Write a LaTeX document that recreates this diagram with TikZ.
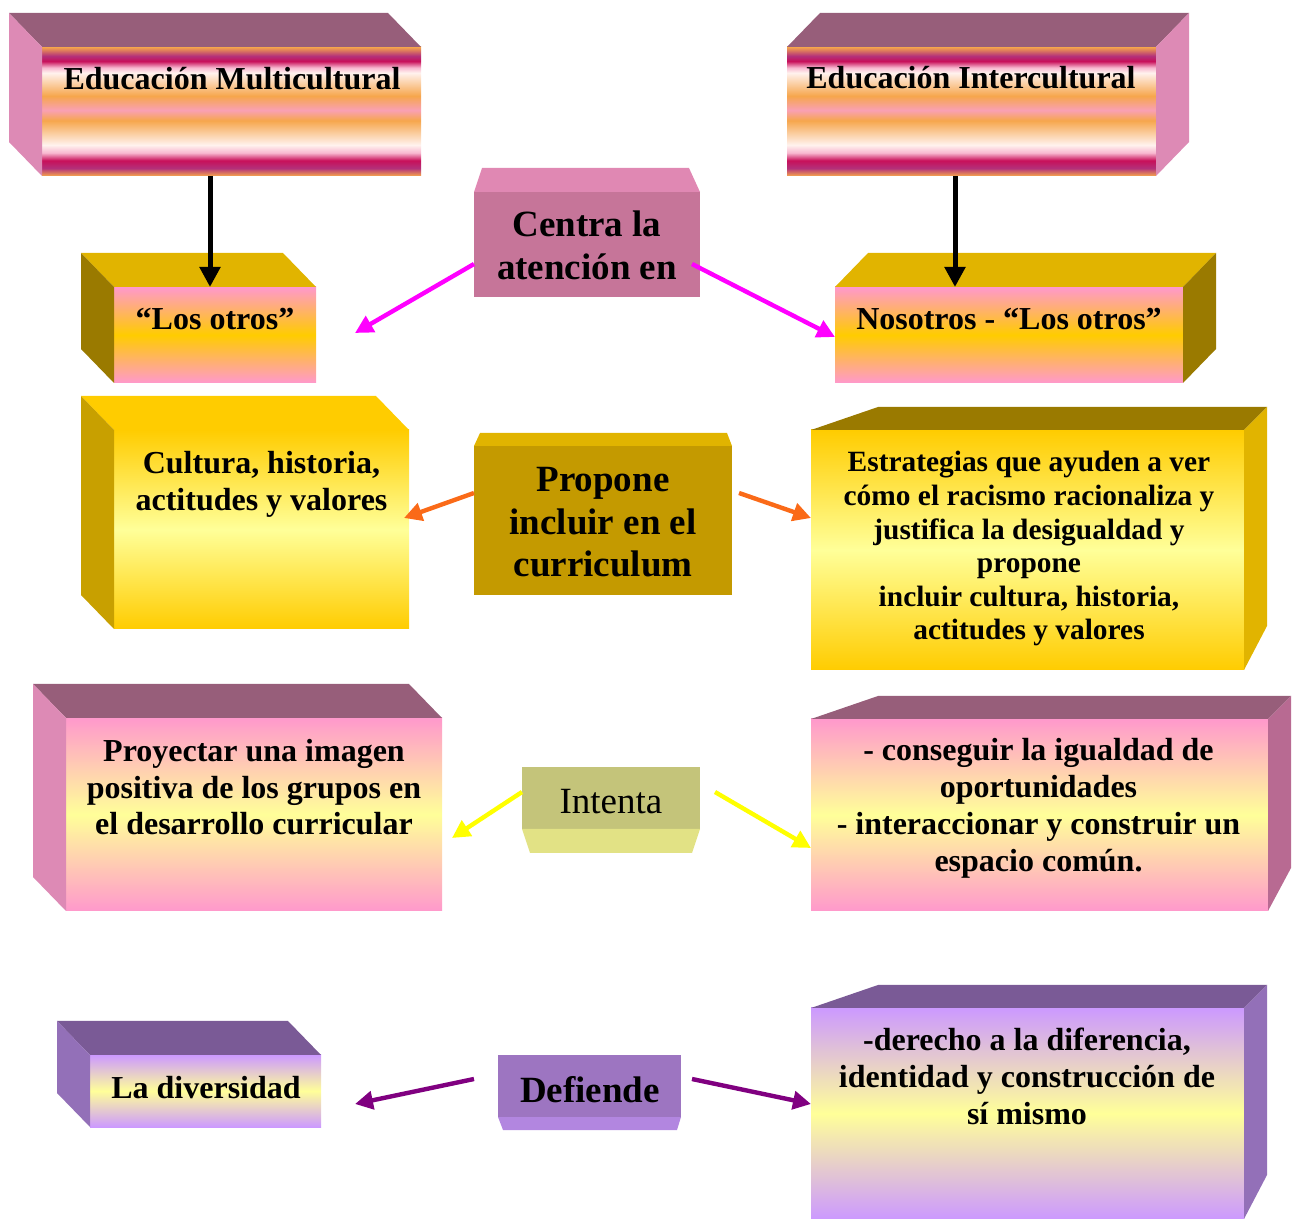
\documentclass[tikz,border=0pt]{standalone}
\usepackage{fontspec}
\setmainfont{Liberation Serif}
\usetikzlibrary{arrows.meta,calc}

% face colours
\definecolor{malvaTop}{HTML}{975E7A}
\definecolor{rosaLado}{HTML}{DD8AB5}
\definecolor{rosaLadoB}{HTML}{B86A92}
\definecolor{centraFr}{HTML}{C67599}
\definecolor{centraTop}{HTML}{E088B3}
\definecolor{oroTop}{HTML}{E1B400}
\definecolor{oroOsc}{HTML}{9A7A00}
\definecolor{oroMed}{HTML}{C8A000}
\definecolor{proponeFr}{HTML}{C49A00}
\definecolor{intentaFr}{HTML}{C4C47A}
\definecolor{intentaBot}{HTML}{E2E285}
\definecolor{lilaTop}{HTML}{7A5A96}
\definecolor{lilaLado}{HTML}{9370B8}
\definecolor{defiendeFr}{HTML}{9D75C1}
\definecolor{defiendeBot}{HTML}{B286E0}
\definecolor{rosaClaro}{HTML}{FF99CC}
\definecolor{amarClaro}{HTML}{FFFF99}
\definecolor{amarOro}{HTML}{FFCC00}
\definecolor{lilaClaro}{HTML}{CC99FF}
% stripe colours
\definecolor{bOr}{HTML}{F6A64C}
\definecolor{bPu}{HTML}{B3307A}
\definecolor{bMa}{HTML}{C8105A}
\definecolor{bPk}{HTML}{F8B8D0}
\definecolor{bWh}{HTML}{FFF2EE}
\definecolor{bRo}{HTML}{F9A0B4}
% arrow colours
\definecolor{flMag}{HTML}{FF00FF}
\definecolor{flNar}{HTML}{FA6A18}
\definecolor{flAma}{HTML}{FFFF00}
\definecolor{flPur}{HTML}{800080}

\pgfdeclareverticalshading{bandas}{100bp}{color(0bp)=(bOr); color(25bp)=(bOr);
  color(28bp)=(bPu); color(31bp)=(bMa); color(34bp)=(bPk); color(37bp)=(bWh);
  color(46.5bp)=(bOr); color(50.5bp)=(bRo); color(56bp)=(bOr); color(65bp)=(bWh);
  color(67bp)=(bPk); color(69.5bp)=(bMa); color(71.5bp)=(bPu); color(75bp)=(bOr);
  color(100bp)=(bOr)}

\newcommand{\fs}[2]{\fontsize{#1}{#2}\selectfont\bfseries}

\tikzset{
  frente/.style={draw=none, inner sep=0pt, outer sep=0pt},
  txt/.style={align=center, inner sep=0pt, anchor=base},
  flecha/.style={line width=2.2pt, -{Triangle[length=9pt,width=9pt]}},
  negra/.style={line width=2.5pt, -{Triangle[length=10pt,width=10pt]}},
}

\begin{document}
\begin{tikzpicture}[x=0.5pt,y=-0.5pt]
\useasboundingbox (0,0) rectangle (1298,1219);

% ---------- front faces ----------
\node[frente, minimum width=189.5pt, minimum height=64.5pt, shade, shading=bandas] (multi) at (231.5,111.5) {};
\node[frente, minimum width=184.5pt, minimum height=64.5pt, shade, shading=bandas] (inter) at (971.5,111.5) {};
\node[frente, minimum width=113pt, minimum height=52.5pt, fill=centraFr] (centra) at (587,244.5) {};
\node[frente, minimum width=101pt, minimum height=48pt, top color=rosaClaro, bottom color=rosaClaro, middle color=amarOro] (losotros) at (215,335) {};
\node[frente, minimum width=174pt, minimum height=48pt, top color=rosaClaro, bottom color=rosaClaro, middle color=amarOro] (nosotros) at (1009,335) {};
\node[frente, minimum width=147.5pt, minimum height=99.5pt, top color=amarOro, bottom color=amarOro, middle color=amarClaro] (cultura) at (261.5,529.5) {};
\node[frente, minimum width=129pt, minimum height=74.5pt, fill=proponeFr] (propone) at (603,520.5) {};
\node[frente, minimum width=216.5pt, minimum height=120pt, top color=amarOro, bottom color=amarOro, middle color=amarClaro] (estrategias) at (1027.5,550) {};
\node[frente, minimum width=188pt, minimum height=96.5pt, top color=rosaClaro, bottom color=rosaClaro, middle color=amarClaro] (proyectar) at (254,814.5) {};
\node[frente, minimum width=89pt, minimum height=31pt, fill=intentaFr] (intenta) at (611,798) {};
\node[frente, minimum width=228.5pt, minimum height=96pt, top color=rosaClaro, bottom color=rosaClaro, middle color=amarClaro] (conseguir) at (1039.5,815) {};
\node[frente, minimum width=115.5pt, minimum height=36pt, top color=lilaClaro, bottom color=lilaClaro, middle color=amarClaro] (diversidad) at (205.5,1091) {};
\node[frente, minimum width=91.5pt, minimum height=31pt, fill=defiendeFr] (defiende) at (589.5,1086) {};
\node[frente, minimum width=216.5pt, minimum height=105.5pt, top color=lilaClaro, bottom color=lilaClaro, middle color=amarClaro] (derecho) at (1027.5,1113.5) {};

% ---------- depth faces ----------
% boxes receding to the upper left
\foreach \n/\t/\s in {multi/malvaTop/rosaLado, losotros/oroTop/oroOsc, cultura/amarOro/oroMed,
                      proyectar/malvaTop/rosaLado, diversidad/lilaTop/lilaLado}{
  \fill[\t] (\n.north west) -- ++(-33,-34) -- ($(\n.north east)+(-33,-34)$) -- (\n.north east) -- cycle;
  \fill[\s] (\n.north west) -- ++(-33,-34) -- ($(\n.south west)+(-33,-34)$) -- (\n.south west) -- cycle;
}
% boxes receding to the upper right
\foreach \n/\t/\s in {inter/malvaTop/rosaLado, nosotros/oroTop/oroOsc}{
  \fill[\t] (\n.north west) -- ++(33,-34) -- ($(\n.north east)+(33,-34)$) -- (\n.north east) -- cycle;
  \fill[\s] (\n.north east) -- ++(33,-34) -- ($(\n.south east)+(33,-34)$) -- (\n.south east) -- cycle;
}
% wide boxes with a shallow top
\foreach \n/\t/\s/\b in {estrategias/oroOsc/oroTop/-44, conseguir/malvaTop/rosaLadoB/-43, derecho/lilaTop/lilaLado/-44}{
  \fill[\t] (\n.north west) -- ++(67,-23) -- ($(\n.north east)+(23,-23)$) -- (\n.north east) -- cycle;
  \fill[\s] (\n.north east) -- ++(23,-23) -- ($(\n.south east)+(23,\b)$) -- (\n.south east) -- cycle;
}
% small connector boxes
\fill[centraTop] (centra.north west) -- ++(8,-24) -- ($(centra.north east)+(-11,-24)$) -- (centra.north east) -- cycle;
\fill[oroTop] (propone.north west) -- ++(6,-13) -- ($(propone.north east)+(-5,-13)$) -- (propone.north east) -- cycle;
\fill[intentaBot] (intenta.south west) -- ++(8,24) -- ($(intenta.south east)+(-8,24)$) -- (intenta.south east) -- cycle;
\fill[defiendeBot] (defiende.south west) -- ++(5,13) -- ($(defiende.south east)+(-4,13)$) -- (defiende.south east) -- cycle;

% ---------- texts (anchored at the baseline of the last line) ----------
\node[txt, font=\fs{16}{18.5}] (multiT) at (232,90) {Educación Multicultural};
\node[txt, font=\fs{16}{18.5}] (interT) at (971,89) {Educación Intercultural};
\node[txt, font=\fs{18.5}{21.5}] (centraT) at (587,280) {Centra la\\atención en};
\node[txt, font=\fs{16}{18.5}] (losotrosT) at (215,330) {“Los otros”};
\node[txt, font=\fs{16}{18.5}] (nosotrosT) at (1009,330) {Nosotros - “Los otros”};
\node[txt, font=\fs{16}{18.5}] (culturaT) at (261.5,511) {Cultura, historia,\\actitudes y valores};
\node[txt, font=\fs{18.5}{21.25}] (proponeT) at (603,577) {Propone\\incluir en el\\curriculum};
\node[txt, font=\fs{14.7}{16.8}] (estrategiasT) at (1029,640) {Estrategias que ayuden a ver\\cómo el racismo racionaliza y\\justifica la desigualdad y\\propone\\incluir cultura, historia,\\actitudes y valores};
\node[txt, font=\fs{16}{18.3}] (proyectarT) at (254,835) {Proyectar una imagen\\positiva de los grupos en\\el desarrollo curricular};
\node[txt, font=\fontsize{18.5}{21}\selectfont] (intentaT) at (611,814) {Intenta};
\node[txt, font=\fs{16}{18.5}] (conseguirT) at (1038.5,872) {- conseguir la igualdad de\\oportunidades\\- interaccionar y construir un\\espacio común.};
\node[txt, font=\fs{16}{18.5}] (diversidadT) at (206,1099) {La diversidad};
\node[txt, font=\fs{18.5}{21}] (defiendeT) at (590,1102) {Defiende};
\node[txt, font=\fs{16}{18.5}] (derechoT) at (1027,1124) {-derecho a la diferencia,\\identidad y construcción de\\sí mismo};

% ---------- connectors ----------
\coordinate (bajaM) at ([xshift=-2.5pt]losotros.north);
\coordinate (bajaI) at ([xshift=-27pt]nosotros.north);
\draw[negra] (bajaM |- multi.south) -- (bajaM);
\draw[negra] (bajaI |- inter.south) -- (bajaI);

\coordinate (finRosa) at (355,333);
\draw[flecha, flMag] ([yshift=-9.75pt]centra.west) -- (finRosa);
\draw[flecha, flMag] ([xshift=-4pt,yshift=-9.75pt]centra.east) -- ([yshift=-1pt]nosotros.west);

\draw[flecha, flNar] ([yshift=13.75pt]propone.west) -- ([xshift=-2.5pt,yshift=5.75pt]cultura.east);
\draw[flecha, flNar] ([xshift=3.5pt,yshift=13.75pt]propone.east) -- ([yshift=16pt]estrategias.west);

\coordinate (finAma) at (452,838);
\draw[flecha, flAma] ([yshift=3pt]intenta.west) -- (finAma);
\draw[flecha, flAma] ([xshift=7.5pt,yshift=3pt]intenta.east) -- ([yshift=-16.5pt]conseguir.west);

\coordinate (iniPur) at ([xshift=-12pt,yshift=3.5pt]defiende.west);
\coordinate (finPur) at (355,1104);
\draw[flecha, flPur] (iniPur) -- (finPur);
\draw[flecha, flPur] ([xshift=5.5pt,yshift=3.5pt]defiende.east) -- ([yshift=4.75pt]derecho.west);
\end{tikzpicture}
\end{document}
